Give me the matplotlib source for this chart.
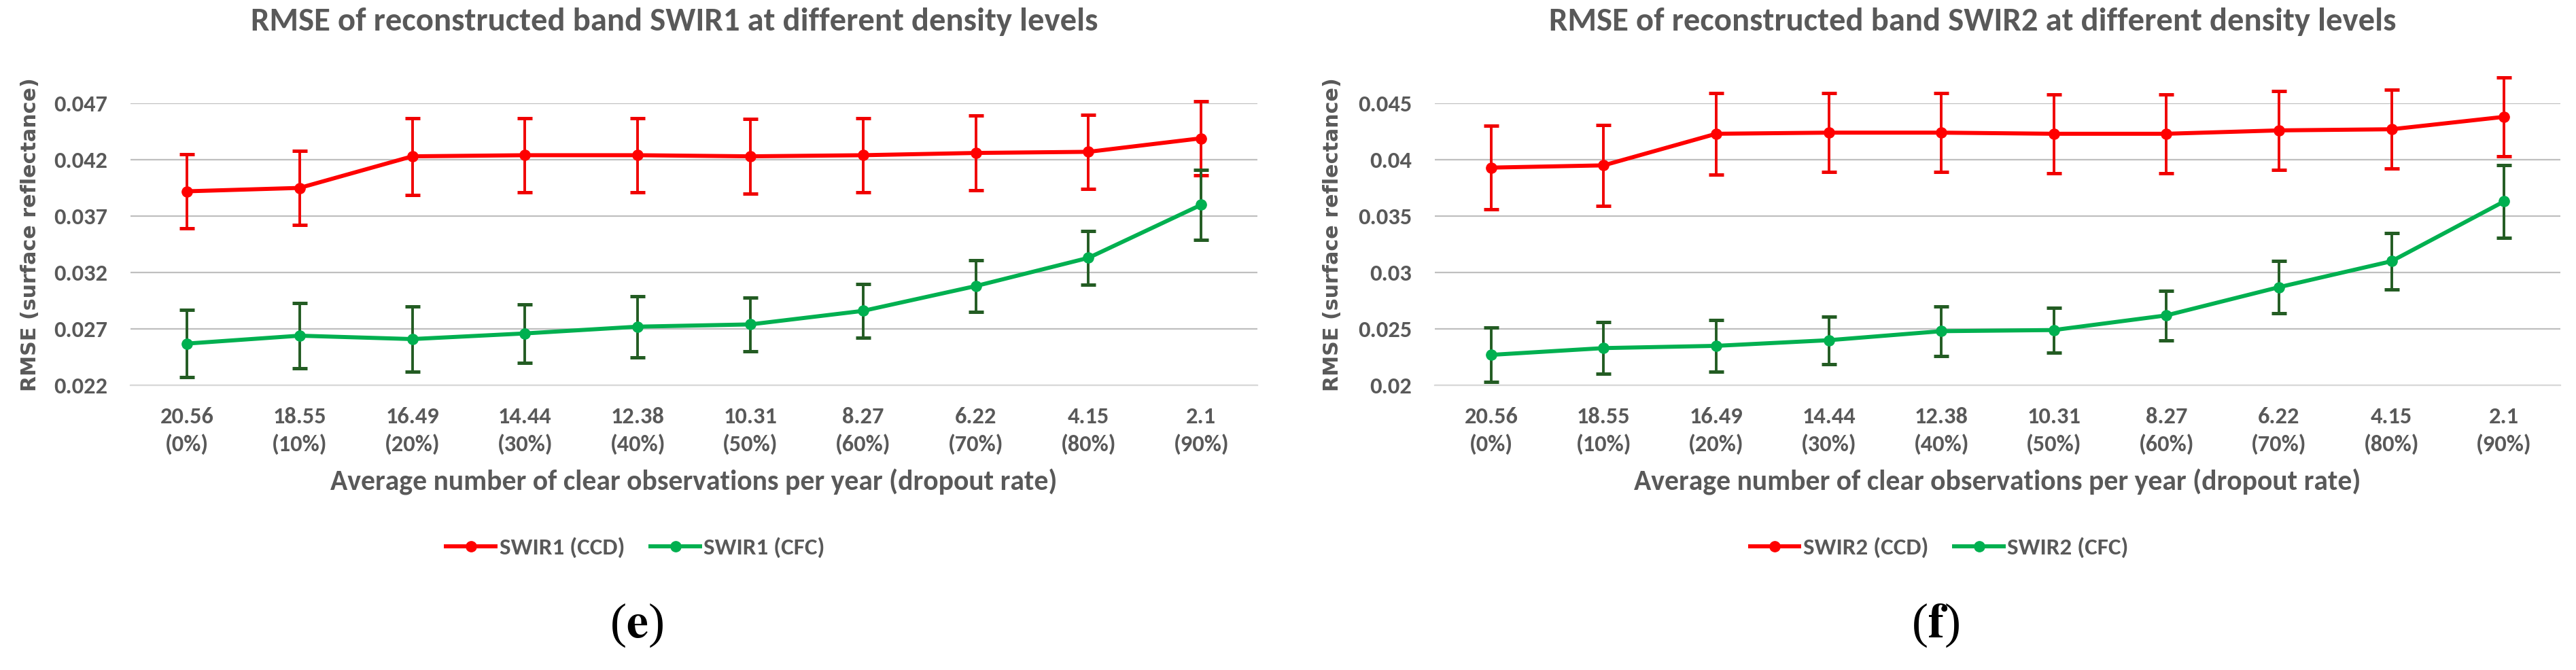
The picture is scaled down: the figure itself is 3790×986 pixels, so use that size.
import matplotlib
matplotlib.use("Agg")
import matplotlib.pyplot as plt
from matplotlib.lines import Line2D
import numpy as np

# x categories: mean clear observations per year and dropout rate
obs = ["20.56", "18.55", "16.49", "14.44", "12.38", "10.31", "8.27", "6.22", "4.15", "2.1"]
dropout = ["0%", "10%", "20%", "30%", "40%", "50%", "60%", "70%", "80%", "90%"]

swir1_ccd = [0.0392, 0.0395, 0.0423, 0.0424, 0.0424, 0.0423, 0.0424, 0.0426, 0.0427, 0.0439]
swir1_ccd_err = [0.0033, 0.0033, 0.0034, 0.0033, 0.0033, 0.0033, 0.0033, 0.0033, 0.0033, 0.0033]
swir1_cfc = [0.0257, 0.0264, 0.0261, 0.0266, 0.0272, 0.0274, 0.0286, 0.0308, 0.0333, 0.0380]
swir1_cfc_err = [0.0030, 0.0029, 0.0029, 0.0026, 0.0027, 0.0024, 0.0024, 0.0023, 0.0024, 0.0031]

swir2_ccd = [0.0393, 0.0395, 0.0423, 0.0424, 0.0424, 0.0423, 0.0423, 0.0426, 0.0427, 0.0438]
swir2_ccd_err = [0.0037, 0.0036, 0.0036, 0.0035, 0.0035, 0.0035, 0.0035, 0.0035, 0.0035, 0.0035]
swir2_cfc = [0.0227, 0.0233, 0.0235, 0.0240, 0.0248, 0.0249, 0.0262, 0.0287, 0.0310, 0.0363]
swir2_cfc_err = [0.0024, 0.0023, 0.0023, 0.0021, 0.0022, 0.0020, 0.0022, 0.0023, 0.0025, 0.0032]

yticks1 = [0.022, 0.027, 0.032, 0.037, 0.042, 0.047]
yticks2 = [0.02, 0.025, 0.03, 0.035, 0.04, 0.045]

GRAY = "#595959"
RED = "#FF0000"
RED_ERR = "#F00000"
GREEN = "#00B050"
GREEN_ERR = "#235C23"
FONT = ["Carlito", "DejaVu Sans"]

plt.rcParams["mathtext.fontset"] = "stix"
fig = plt.figure(figsize=(37.9, 9.86), dpi=100)
H = 986.0


def fit(txt, target_w, horizontal=True):
    # scale the font so the text spans the width it has in the picture
    bb = txt.get_window_extent(fig.canvas.get_renderer())
    w = bb.width if horizontal else bb.height
    txt.set_fontsize(txt.get_fontsize() * target_w / w)


def panel(rect, band, ccd, ccd_err, cfc, cfc_err, yticks, title_x, leg_x, tag, tag_x, ylab_x):
    ax = fig.add_axes(rect)
    x = np.arange(len(obs))
    for vals, errs, col in [(ccd, ccd_err, RED_ERR), (cfc, cfc_err, GREEN_ERR)]:
        eb = ax.errorbar(x, vals, yerr=errs, fmt="none", ecolor=col, elinewidth=2.8,
                         capsize=8, capthick=3.6, zorder=3)
        for art in eb.get_children():
            art.set_clip_on(False)
    ax.plot(x, ccd, color=RED, lw=4.3, marker="o", ms=11, zorder=4, clip_on=False)
    ax.plot(x, cfc, color=GREEN, lw=4.3, marker="o", ms=11, zorder=4, clip_on=False)

    ax.set_xlim(-0.5, len(obs) - 0.5)
    ax.set_ylim(yticks[0], yticks[-1])
    ax.set_yticks(yticks)
    ax.set_yticklabels([("%g" % t) for t in yticks])
    ax.set_xticks(x)
    ax.set_xticklabels([o + "\n(" + d + ")" for o, d in zip(obs, dropout)], linespacing=1.4)
    ax.grid(axis="y", color="#BFBFBF", lw=1.6)
    ax.set_axisbelow(True)
    for s in ["top", "left", "right"]:
        ax.spines[s].set_visible(False)
    ax.spines["bottom"].set_color("#D9D9D9")
    ax.spines["bottom"].set_linewidth(1.6)
    ax.tick_params(axis="y", length=0, pad=24.5, labelsize=24, labelcolor=GRAY)
    ax.tick_params(axis="x", length=0, pad=22, labelsize=24, labelcolor=GRAY)
    for lab in ax.get_xticklabels() + ax.get_yticklabels():
        lab.set_family(FONT)
        lab.set_fontweight("bold")

    ax.set_xlabel("Average number of clear observations per year (dropout rate)",
                  fontsize=28, color=GRAY, family=FONT, fontweight="bold")
    ax.xaxis.label.set_va("baseline")
    ax.xaxis.set_label_coords(0.5, -(721.0 - 567.0) / 415.0)
    ax.set_ylabel("RMSE (surface reflectance)", fontsize=20, color=GRAY,
                  family="DejaVu Sans", fontweight="bold")
    ax.yaxis.label.set_va("center")
    ax.yaxis.set_label_coords(ylab_x, (567.0 - 345.0) / 415.0)

    title = fig.text(title_x, (H - 45.0) / H,
                     "RMSE of reconstructed band " + band + " at different density levels",
                     ha="center", va="baseline", fontsize=32, color=GRAY, family=FONT,
                     fontweight="bold")

    handles = [Line2D([], [], color=RED, lw=4.3, marker="o", ms=11),
               Line2D([], [], color=GREEN, lw=4.3, marker="o", ms=11)]
    leg = fig.legend(handles, [band + " (CCD)", band + " (CFC)"], loc="center",
                     bbox_to_anchor=(leg_x, (H - 806.0) / H), ncol=2, frameon=False,
                     handlelength=2.1, handletextpad=0.15, columnspacing=1.1,
                     prop={"family": FONT, "weight": "bold", "size": 25}, labelcolor=GRAY)

    fig.text(tag_x, (H - 920.0) / H, "(" + r"$\mathbf{" + tag + "}$" + ")", ha="center",
             va="center", fontsize=52, color="black", family="Liberation Serif")

    # match text sizes to the picture
    fig.canvas.draw()
    fit(title, 1251)
    fit(ax.xaxis.label, 1073)
    fit(ax.yaxis.label, 462, horizontal=False)
    yw = ax.get_yticklabels()[-1].get_window_extent(fig.canvas.get_renderer()).width
    ax.tick_params(axis="y", labelsize=24 * 79.0 / yw)
    # x tick size from the width of its first line "20.56"
    probe = fig.text(0, 0, obs[0], fontsize=24, family=FONT, fontweight="bold")
    pw = probe.get_window_extent(fig.canvas.get_renderer()).width
    probe.remove()
    ax.tick_params(axis="x", labelsize=24 * 79.0 / pw)
    fig.canvas.draw()
    bb = ax.get_xticklabels()[0].get_window_extent(fig.canvas.get_renderer())
    shift = (bb.y0 + bb.y1) / 2 - (H - 634.0)
    ax.tick_params(axis="x", pad=22 + shift * 0.72)
    lw = leg.get_texts()[0].get_window_extent(fig.canvas.get_renderer()).width
    for t in leg.get_texts():
        t.set_fontsize(25 * 185.0 / lw)
    return ax


panel([0.05066, 0.4249, 0.4375, 0.4209], "SWIR1", swir1_ccd, swir1_ccd_err,
      swir1_cfc, swir1_cfc_err, yticks1, 0.2617, 0.2467, "e", 0.2472, -(192 - 45) / 1658.0)
panel([0.5570, 0.4249, 0.4369, 0.4209], "SWIR2", swir2_ccd, swir2_ccd_err,
      swir2_cfc, swir2_cfc_err, yticks2, 0.7657, 0.7528, "f", 0.7512, -(2111 - 1960) / 1656.0)

fig.savefig("out.png", dpi=100)
